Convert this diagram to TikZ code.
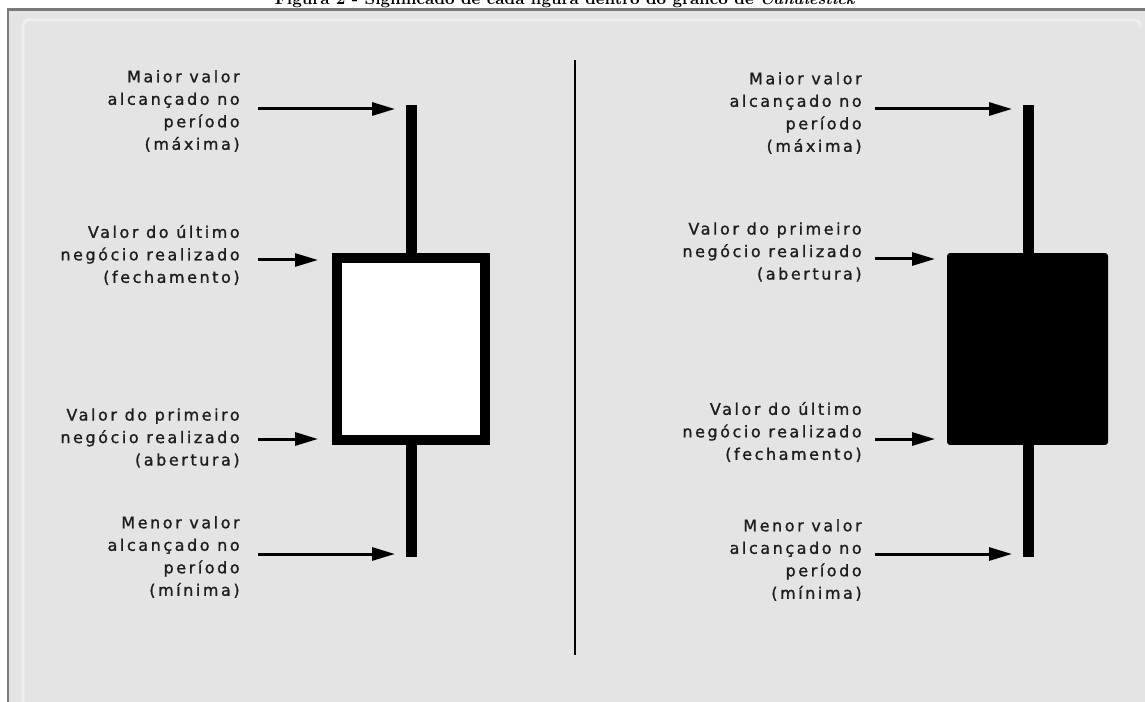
\documentclass[tikz,border=0pt]{standalone}
\usepackage{fontspec}
\newfontfamily\labfont[LetterSpace=16,FakeBold=1.2]{DejaVu Sans}
\usetikzlibrary{arrows.meta}
\definecolor{bg}{HTML}{E4E4E4}
\definecolor{framegray}{HTML}{7A7A7A}
\definecolor{innerline}{HTML}{EEEEEE}
\definecolor{labcol}{HTML}{1E1E1E}
\tikzset{
  lab/.style={anchor=east, inner sep=0pt, align=right, text=labcol,
    font=\labfont\fontsize{9.1}{12.8}\selectfont},
  arr/.style={line width=0.06cm, -{Triangle[length=0.46cm,width=0.26cm]}},
  wick/.style={line width=0.22cm},
  whitebox/.style={draw=black, fill=white, line width=0.2cm,
    minimum width=2.96cm, minimum height=3.64cm, inner sep=0pt},
  blackbox/.style={fill=black, rounded corners=0.06cm,
    minimum width=3.22cm, minimum height=3.84cm, inner sep=0pt, outer sep=0pt},
  divider/.style={line width=0.05cm}
}
\begin{document}
\begin{tikzpicture}[x=0.02cm,y=-0.02cm]
\useasboundingbox (0,0) rectangle (1145,702);
\fill[white] (0,0) rectangle (1145,702);
% panel
\fill[bg] (8,10) rectangle (1170,730);
\draw[innerline, line width=0.06cm, rounded corners=0.1cm] (23,730) -- (23,20) -- (1140,20) -- (1140,28);
\draw[framegray, line width=0.06cm] (8,730) -- (8,10) -- (1170,10);
% title (cut off by the top edge, as in the reference)
\node[anchor=base, inner sep=0pt, font=\bfseries\fontsize{9.2}{11}\selectfont] (title) at (565,4.5)
  {Figura 2 - Significado de cada figura dentro do gráfico de \textit{Candlestick}};
% divider
\coordinate (dtop) at (575,60);
\coordinate (dbot) at (575,655);
\draw[divider] (dtop) -- (dbot);

% ---------- left candle ----------
\coordinate (Ltop) at (411,105);
\coordinate (Lbot) at (411,557);
\draw[wick] (Ltop) -- (Lbot);
\node[whitebox] (Lbox) at (411,349) {};
\node[lab] (Lt1) at (240,111) {Maior valor\\alcançado no\\período\\(máxima)};
\node[lab] (Lt2) at (240,255) {Valor do último\\negócio realizado\\(fechamento)};
\node[lab] (Lt3) at (240,438) {Valor do primeiro\\negócio realizado\\(abertura)};
\node[lab] (Lt4) at (240,557) {Menor valor\\alcançado no\\período\\(mínima)};
\coordinate (La1) at (258,109);
\coordinate (La2) at (258,260);
\coordinate (La3) at (258,439);
\coordinate (La4) at (258,554);
\draw[arr, shorten >=0.32cm] (La1) -- (La1 -| Ltop);
\draw[arr, shorten >=0.28cm] (La2) -- (La2 -| Lbox.west);
\draw[arr, shorten >=0.28cm] (La3) -- (La3 -| Lbox.west);
\draw[arr, shorten >=0.32cm] (La4) -- (La4 -| Lbot);

% ---------- right candle ----------
\coordinate (Rtop) at (1028,105);
\coordinate (Rbot) at (1028,557);
\draw[wick] (Rtop) -- (Rbot);
\node[blackbox] (Rbox) at (1027.5,349) {};
\node[lab] (Rt1) at (862,113) {Maior valor\\alcançado no\\período\\(máxima)};
\node[lab] (Rt2) at (862,252) {Valor do primeiro\\negócio realizado\\(abertura)};
\node[lab] (Rt3) at (862,432) {Valor do último\\negócio realizado\\(fechamento)};
\node[lab] (Rt4) at (862,560) {Menor valor\\alcançado no\\período\\(mínima)};
\coordinate (Ra1) at (875,109);
\coordinate (Ra2) at (875,259);
\coordinate (Ra3) at (875,439);
\coordinate (Ra4) at (875,554);
\draw[arr, shorten >=0.32cm] (Ra1) -- (Ra1 -| Rtop);
\draw[arr, shorten >=0.24cm] (Ra2) -- (Ra2 -| Rbox.west);
\draw[arr, shorten >=0.24cm] (Ra3) -- (Ra3 -| Rbox.west);
\draw[arr, shorten >=0.32cm] (Ra4) -- (Ra4 -| Rbot);
\end{tikzpicture}
\end{document}
